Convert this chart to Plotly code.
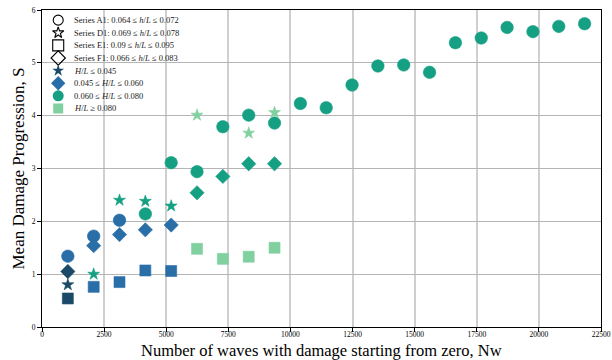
import plotly.graph_objects as go

# ---- data ----
a1_x = [1040, 2080, 3120, 4160, 5200, 6240, 7280, 8320, 9360, 10400, 11440,
        12480, 13520, 14560, 15600, 16640, 17680, 18720, 19760, 20800, 21840]
a1_y = [1.34, 1.72, 2.02, 2.14, 3.11, 2.94, 3.79, 4.01, 3.86, 4.23, 4.15,
        4.58, 4.94, 4.96, 4.82, 5.38, 5.47, 5.67, 5.59, 5.69, 5.74]
a1_bin = ["b", "b", "b"] + ["c"] * 18

d1_x = [1040, 2080, 3120, 4160, 5200, 6240, 8320, 9360]
d1_y = [0.80, 1.00, 2.40, 2.38, 2.29, 4.01, 3.67, 4.06]
d1_bin = ["a", "c", "c", "c", "c", "d", "d", "d"]

e1_x = [1040, 2080, 3120, 4160, 5200, 6240, 7280, 8320, 9360]
e1_y = [0.54, 0.76, 0.85, 1.07, 1.06, 1.48, 1.29, 1.33, 1.50]
e1_bin = ["a", "b", "b", "b", "b", "d", "d", "d", "d"]

f1_x = [1040, 2080, 3120, 4160, 5200, 6240, 7280, 8320, 9360]
f1_y = [1.05, 1.54, 1.75, 1.84, 1.93, 2.54, 2.85, 3.09, 3.09]
f1_bin = ["a", "b", "b", "b", "b", "c", "c", "c", "c"]

series_labels = [
    "Series A1: 0.064 ≤ <i>h</i>/<i>L</i> ≤ 0.072",
    "Series D1: 0.069 ≤ <i>h</i>/<i>L</i> ≤ 0.078",
    "Series E1: 0.09 ≤ <i>h</i>/<i>L</i> ≤ 0.095",
    "Series F1: 0.066 ≤ <i>h</i>/<i>L</i> ≤ 0.083",
]
bin_keys = ["a", "b", "c", "d"]
bin_labels = [
    "<i>H</i>/<i>L</i> ≤ 0.045",
    "0.045 ≤ <i>H</i>/<i>L</i> ≤ 0.060",
    "0.060 ≤ <i>H</i>/<i>L</i> ≤ 0.080",
    "<i>H</i>/<i>L</i> ≥ 0.080",
]
x_ticks = [0, 2500, 5000, 7500, 10000, 12500, 15000, 17500, 20000, 22500]
y_ticks = [0, 1, 2, 3, 4, 5, 6]
x_title = "Number of waves with damage starting from zero, Nw"
y_title = "Mean Damage Progression, S"

# ---- styles ----
colors = {"a": "#1b4a68", "b": "#2a6ea8", "c": "#16a083", "d": "#80d0a0"}
series = [
    (a1_x, a1_y, a1_bin, "circle", 12.5),
    (d1_x, d1_y, d1_bin, "star", 9),
    (e1_x, e1_y, e1_bin, "square", 11),
    (f1_x, f1_y, f1_bin, "diamond", 11),
]
FONT = "Liberation Serif"

fig = go.Figure()
for xs, ys, bins, sym, size in series:
    for k in bin_keys:
        px = [x for x, b in zip(xs, bins) if b == k]
        py = [y for y, b in zip(ys, bins) if b == k]
        if not px:
            continue
        fig.add_trace(go.Scatter(
            x=px, y=py, mode="markers", showlegend=False,
            marker=dict(symbol=sym, size=size, color=colors[k],
                        line=dict(width=0.6, color=colors[k])),
        ))

# ---- manual legend (overlay axis in 0..1 units) ----
leg_x_marker = 0.029
leg_x_text = 0.054
leg_top = 0.968
leg_step = 0.0398
leg_syms = ["circle-open", "star-open", "square-open", "diamond-open"]
leg_sizes = [10, 8.5, 11, 11]
for i, (lab, sym, sz) in enumerate(zip(series_labels, leg_syms, leg_sizes)):
    yy = leg_top - i * leg_step
    fig.add_trace(go.Scatter(
        x=[leg_x_marker], y=[yy], xaxis="x2", yaxis="y2", mode="markers",
        showlegend=False, hoverinfo="skip",
        marker=dict(symbol=sym, size=sz, color="black", line=dict(width=1.1, color="black")),
    ))
    fig.add_annotation(x=leg_x_text, y=yy, xref="paper", yref="paper", text=lab,
                       showarrow=False, xanchor="left", yanchor="middle",
                       font=dict(family=FONT, size=8.5, color="#222"))
fill_syms = ["star", "diamond", "circle", "square"]
fill_sizes = [9, 11, 11, 10]
for j, (k, lab, sym, sz) in enumerate(zip(bin_keys, bin_labels, fill_syms, fill_sizes)):
    yy = leg_top - (j + 4) * leg_step
    fig.add_trace(go.Scatter(
        x=[leg_x_marker], y=[yy], xaxis="x2", yaxis="y2", mode="markers",
        showlegend=False, hoverinfo="skip",
        marker=dict(symbol=sym, size=sz, color=colors[k], line=dict(width=0)),
    ))
    fig.add_annotation(x=leg_x_text, y=yy, xref="paper", yref="paper", text=lab,
                       showarrow=False, xanchor="left", yanchor="middle",
                       font=dict(family=FONT, size=8.5, color="#222"))

# x-axis title as a text block just below the tick labels
fig.add_annotation(x=0.5, y=-0.041, xref="paper", yref="paper", text=x_title,
                   showarrow=False, xanchor="center", yanchor="top", borderpad=0,
                   font=dict(family=FONT, size=16.5, color="black"))

fig.update_layout(
    width=612, height=360,
    margin=dict(l=42, r=11, t=10, b=33, autoexpand=False),
    paper_bgcolor="white", plot_bgcolor="white",
    font=dict(family=FONT, color="black"),
    xaxis=dict(
        range=[0, 22500], tickvals=x_ticks, ticktext=[str(v) for v in x_ticks],
        showgrid=True, gridcolor="#cfcfcf", gridwidth=1.5,
        showline=True, linecolor="black", linewidth=1.2, mirror=True,
        ticks="outside", ticklen=4, tickcolor="black", tickwidth=1,
        ticklabelstandoff=-4,
        tickfont=dict(size=7.5, family=FONT), zeroline=False, automargin=False,
    ),
    yaxis=dict(
        range=[0, 6], tickvals=y_ticks,
        showgrid=True, gridcolor="#b5b5b5", gridwidth=1.2,
        showline=True, linecolor="black", linewidth=1.2, mirror=True,
        ticks="outside", ticklen=4, tickcolor="black", tickwidth=1,
        tickfont=dict(size=7.5, family=FONT), zeroline=False, automargin=False,
        title=dict(text=y_title, font=dict(size=17, family=FONT), standoff=2),
    ),
    xaxis2=dict(overlaying="x", range=[0, 1], visible=False, fixedrange=True),
    yaxis2=dict(overlaying="y", range=[0, 1], visible=False, fixedrange=True),
)

fig.write_html(
    "out.html",
    config={"displayModeBar": False},
    post_script="document.body.style.margin='0';document.body.style.overflow='hidden';",
)
